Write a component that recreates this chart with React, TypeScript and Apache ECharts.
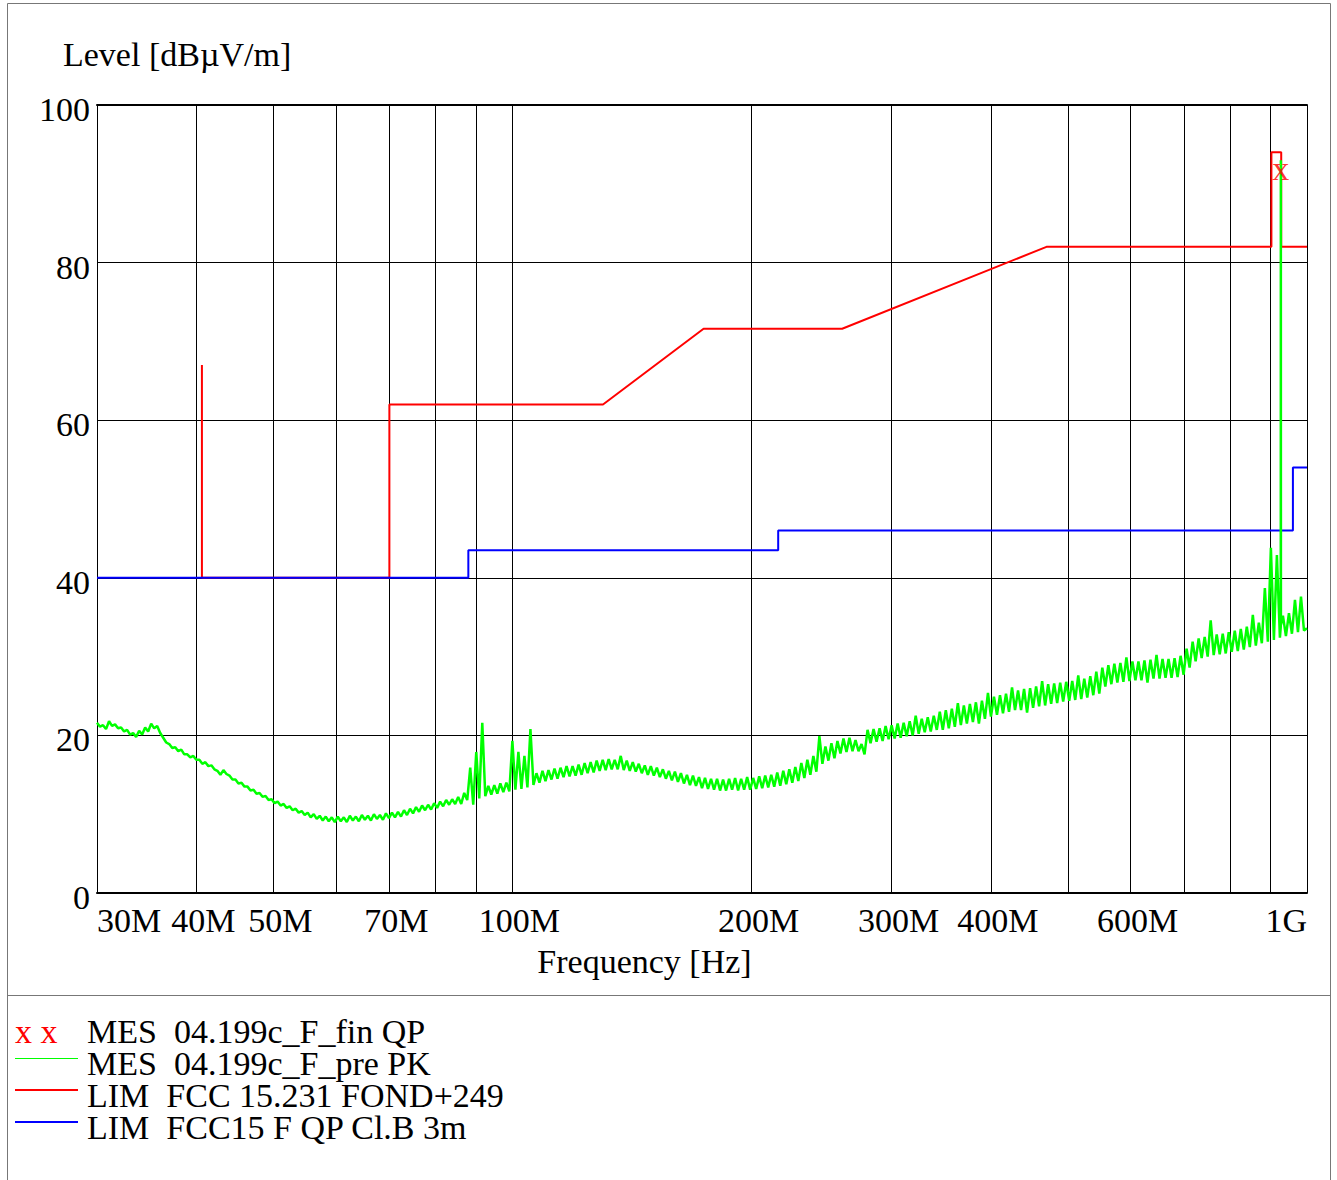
import React, { useEffect, useRef } from "react";
import * as echarts from "echarts";

// Sweep grid of the pre-scan display (log-spaced steps), MHz
const SWEEP_START_MHZ = 30;
const SWEEP_STOP_MHZ = 1000;

// MES 04.199c_F_pre PK — upper edge of the trace at each display step (dBµV/m)
const preScanMax = [
  21.6, 21.3, 21.8, 21.4, 21.0, 20.7, 20.3, 20.6, 21.0, 21.5,
  21.2, 19.7, 18.9, 18.5, 18.2, 17.6, 17.4, 16.9, 16.6, 16.2,
  15.5, 15.6, 14.9, 14.4, 14.0, 13.5, 13.1, 12.7, 12.3, 11.9,
  11.6, 11.3, 11.0, 10.7, 10.4, 10.2, 10.0, 9.8, 9.7, 9.6,
  9.7, 9.6, 9.8, 9.7, 9.9, 9.8, 10.0, 9.9, 10.1, 10.2,
  10.3, 10.5, 10.7, 10.9, 11.1, 11.2, 11.4, 11.6, 11.8, 11.9,
  12.2, 12.7, 15.9, 17.9, 21.6, 13.6, 13.7, 13.9, 14.0, 19.3,
  17.9, 17.4, 20.8, 15.2, 15.5, 15.6, 15.8, 15.9, 16.1, 16.1,
  16.3, 16.5, 16.6, 16.8, 16.9, 17.0, 16.9, 17.4, 16.8, 16.6,
  16.4, 16.2, 16.1, 15.9, 15.7, 15.5, 15.4, 15.2, 15.0, 14.9,
  14.7, 14.6, 14.5, 14.5, 14.4, 14.5, 14.6, 14.5, 14.7, 14.6,
  14.8, 14.9, 15.0, 15.3, 15.5, 15.7, 16.0, 16.5, 16.9, 17.4,
  19.9, 18.6, 19.0, 19.3, 19.6, 19.7, 19.4, 18.9, 20.7, 20.8,
  20.9, 21.2, 21.3, 21.5, 21.6, 21.8, 22.5, 22.1, 22.3, 22.5,
  23.0, 23.2, 23.4, 24.1, 23.8, 24.0, 24.2, 24.4, 25.4, 24.9,
  25.1, 25.3, 26.1, 25.7, 25.9, 26.0, 26.2, 26.9, 26.5, 26.6,
  26.7, 26.8, 26.9, 27.6, 27.2, 27.5, 28.1, 28.6, 28.9, 29.1,
  29.2, 29.9, 29.4, 29.4, 29.5, 29.6, 30.2, 29.7, 29.7, 29.8,
  30.1, 31.0, 31.9, 32.3, 32.5, 34.6, 32.8, 32.9, 33.1, 33.3,
  33.5, 33.8, 35.3, 34.3, 38.7, 43.8, 42.9, 35.2, 35.5, 37.2, 37.6, 33.6,
];

// MES 04.199c_F_pre PK — lower edge of the trace, half a step after each upper point (dBµV/m)
const preScanMin = [
  21.1, 20.8, 21.2, 20.9, 20.5, 20.1, 19.8, 20.1, 20.5, 20.9,
  20.3, 19.1, 18.4, 18.0, 17.6, 17.2, 16.9, 16.4, 16.1, 15.7,
  15.0, 15.1, 14.4, 13.9, 13.5, 13.0, 12.6, 12.2, 11.8, 11.4,
  11.1, 10.8, 10.5, 10.2, 9.9, 9.6, 9.4, 9.2, 9.1, 9.0,
  9.1, 9.0, 9.2, 9.1, 9.3, 9.2, 9.4, 9.3, 9.5, 9.6,
  9.7, 9.9, 10.1, 10.3, 10.5, 10.6, 10.8, 11.0, 11.2, 11.3,
  11.3, 11.8, 11.2, 12.0, 12.3, 12.5, 12.6, 12.8, 12.9, 13.1,
  13.2, 13.4, 13.7, 14.0, 14.2, 14.4, 14.5, 14.7, 14.8, 14.9,
  15.0, 15.2, 15.3, 15.5, 15.6, 15.7, 15.7, 15.6, 15.5, 15.4,
  15.2, 15.0, 14.9, 14.7, 14.5, 14.3, 14.1, 13.9, 13.7, 13.6,
  13.3, 13.2, 13.1, 13.0, 13.0, 13.1, 13.0, 13.1, 13.1, 13.2,
  13.3, 13.4, 13.5, 13.6, 13.8, 14.0, 14.2, 14.6, 15.0, 15.4,
  16.4, 16.8, 17.1, 17.7, 17.9, 18.0, 18.0, 17.6, 19.0, 19.2,
  19.3, 19.5, 19.6, 19.7, 19.9, 20.0, 20.2, 20.4, 20.5, 20.7,
  20.7, 20.9, 21.1, 21.3, 21.5, 21.7, 21.5, 22.1, 22.4, 22.6,
  22.8, 23.0, 23.2, 23.2, 22.9, 23.5, 23.7, 23.8, 24.0, 24.1,
  24.3, 24.4, 24.5, 24.6, 24.8, 25.1, 25.3, 26.2, 26.5, 26.7,
  26.8, 26.9, 27.0, 27.0, 26.7, 27.2, 27.2, 27.3, 27.3, 27.4,
  27.7, 28.6, 29.4, 29.8, 30.0, 30.2, 30.3, 30.4, 30.6, 30.7,
  30.9, 31.2, 31.4, 31.7, 31.9, 32.1, 32.4, 32.6, 32.9, 33.1, 33.3,
];

// Fundamental carrier seen in the pre-scan, [MHz, dBµV/m]
const carrierPeak = [
  [926.8, 33.8],
  [927.0, 93.0],
  [927.2, 34.0],
];

// MES 04.199c_F_fin QP — final measurement, [MHz, dBµV/m]
const finalQP = [[927.0, 92.0]];

// LIM FCC 15.231 FOND+249, [MHz, dBµV/m]
const limitFond = [
  [40.66, 67], [40.66, 40], [70, 40], [70, 62], [130, 62], [174, 71.6],
  [260, 71.6], [470, 82], [902, 82], [902, 94], [928, 94], [928, 82], [1000, 82],
];

// LIM FCC15 F QP Cl.B 3m, [MHz, dBµV/m]
const limitClassB = [
  [30, 40], [88, 40], [88, 43.5], [216, 43.5], [216, 46], [960, 46], [960, 54], [1000, 54],
];

const gridFreqs = [30, 40, 50, 60, 70, 80, 90, 100, 200, 300, 400, 500, 600, 700, 800, 900, 1000];
const labelFreqs = [30, 40, 50, 70, 100, 200, 300, 400, 600, 1000];

const legendTexts = [
  "MES  04.199c_F_fin QP",
  "MES  04.199c_F_pre PK",
  "LIM  FCC 15.231 FOND+249",
  "LIM  FCC15 F QP Cl.B 3m",
];

const FONT = '"Liberation Serif", "Times New Roman", serif';
const lg = (f: number) => Math.log10(f);
const toXY = (pts: number[][]) => pts.map(([f, v]) => [lg(f), v]);

function buildPreScan(): number[][] {
  const n = preScanMax.length;
  const ratio = SWEEP_STOP_MHZ / SWEEP_START_MHZ;
  const freqAt = (k: number) => SWEEP_START_MHZ * Math.pow(ratio, k / (n - 1));
  const pts: number[][] = [];
  for (let j = 0; j < n; j++) {
    pts.push([freqAt(j), preScanMax[j]]);
    if (j < preScanMin.length) pts.push([freqAt(j + 0.5), preScanMin[j]]);
  }
  const all = pts.concat(carrierPeak).sort((a, b) => a[0] - b[0]);
  return toXY(all);
}

export default function App() {
  const ref = useRef<HTMLDivElement>(null);
  useEffect(() => {
    const chart = echarts.init(ref.current!, null, { renderer: "svg" });
    const xmin = lg(30);
    const xmax = lg(1000);
    const labelStyle = { fontFamily: FONT, fontSize: 34, color: "#000" };
    const option: any = {
      animation: false,
      backgroundColor: "#ffffff",
      grid: { left: 97, top: 105, width: 1210, height: 788, show: false },
      xAxis: [
        {
          type: "value",
          min: xmin,
          max: xmax,
          axisLine: { show: true, onZero: false, lineStyle: { color: "#000", width: 2 } },
          axisTick: { show: false, customValues: gridFreqs.map(lg) },
          axisLabel: {
            customValues: labelFreqs.map(lg),
            formatter: (v: number) => {
              const f = Math.round(Math.pow(10, v));
              const txt = f >= 1000 ? f / 1000 + "G" : f + "M";
              return f === 30 ? `{a|${txt}}` : `{b|${txt}}`;
            },
            rich: {
              a: { ...labelStyle },
              b: { ...labelStyle, padding: [0, 0, 0, 14] },
            },
            ...labelStyle,
            margin: 10,
            alignMinLabel: "left",
            alignMaxLabel: "right",
            showMinLabel: true,
            showMaxLabel: true,
            hideOverlap: false,
          },
          splitLine: { show: true, lineStyle: { color: "#000", width: 1 } },
        },
        {
          type: "value",
          position: "top",
          min: xmin,
          max: xmax,
          axisLine: { show: true, onZero: false, lineStyle: { color: "#000", width: 2 } },
          axisTick: { show: false },
          axisLabel: { show: false },
          splitLine: { show: false },
        },
      ],
      yAxis: {
        type: "value",
        min: 0,
        max: 100,
        interval: 20,
        axisLine: { show: false },
        axisTick: { show: false },
        axisLabel: {
          ...labelStyle,
          margin: 7,
          formatter: (v: number) => `{p|${v}}`,
          rich: { p: { ...labelStyle, padding: [9, 0, 0, 0] } },
        },
        splitLine: { show: true, lineStyle: { color: "#000", width: 1 } },
      },
      series: [
        {
          name: "LIM FCC 15.231 FOND+249",
          type: "line",
          data: toXY(limitFond),
          symbol: "none",
          lineStyle: { color: "#ff0000", width: 2 },
          z: 3,
        },
        {
          name: "LIM FCC15 F QP Cl.B 3m",
          type: "line",
          data: toXY(limitClassB),
          symbol: "none",
          lineStyle: { color: "#0000ff", width: 2 },
          z: 3,
        },
        {
          name: "MES 04.199c_F_pre PK",
          type: "line",
          data: buildPreScan(),
          symbol: "none",
          lineStyle: { color: "#00ff00", width: 2.5, join: "bevel" },
          z: 4,
        },
        {
          name: "MES 04.199c_F_fin QP",
          type: "scatter",
          data: toXY(finalQP),
          symbolSize: 1,
          itemStyle: { color: "rgba(0,0,0,0)" },
          label: {
            show: true,
            position: "inside",
            formatter: "x",
            fontFamily: FONT,
            fontSize: 34,
            color: "#ff0000",
          },
          z: 5,
        },
      ],
      graphic: [
        {
          type: "rect",
          shape: { x: 7.5, y: 3.5, width: 1323, height: 1190 },
          style: { fill: "none", stroke: "#777", lineWidth: 1 },
          silent: true,
        },
        {
          type: "line",
          shape: { x1: 7.5, y1: 995.5, x2: 1330.5, y2: 995.5 },
          style: { stroke: "#777", lineWidth: 1 },
          silent: true,
        },
        {
          type: "text",
          x: 63,
          y: 54.5,
          style: { text: "Level [dBµV/m]", font: `34px ${FONT}`, fill: "#000", align: "left", verticalAlign: "middle" },
        },
        {
          type: "text",
          x: 644.5,
          y: 961.5,
          style: { text: "Frequency [Hz]", font: `34px ${FONT}`, fill: "#000", align: "center", verticalAlign: "middle" },
        },
        {
          type: "text",
          x: 15,
          y: 1031.5,
          style: { text: "x x", font: `34px ${FONT}`, fill: "#ff0000", align: "left", verticalAlign: "middle" },
        },
        {
          type: "line",
          shape: { x1: 15, y1: 1058.5, x2: 78, y2: 1058.5 },
          style: { stroke: "#00ff00", lineWidth: 1 },
        },
        {
          type: "line",
          shape: { x1: 15, y1: 1090, x2: 78, y2: 1090 },
          style: { stroke: "#ff0000", lineWidth: 2 },
        },
        {
          type: "line",
          shape: { x1: 15, y1: 1122, x2: 78, y2: 1122 },
          style: { stroke: "#0000ff", lineWidth: 2 },
        },
        ...legendTexts.map((t, i) => ({
          type: "text",
          x: 87,
          y: 1031.5 + i * 32,
          style: { text: t, font: `34px ${FONT}`, fill: "#000", align: "left", verticalAlign: "middle" },
        })),
      ],
    };
    chart.setOption(option);
    return () => chart.dispose();
  }, []);
  return (
    <div
      ref={ref}
      style={{ position: "absolute", left: 0, top: 0, width: 1337, height: 1180, background: "#fff" }}
    />
  );
}
